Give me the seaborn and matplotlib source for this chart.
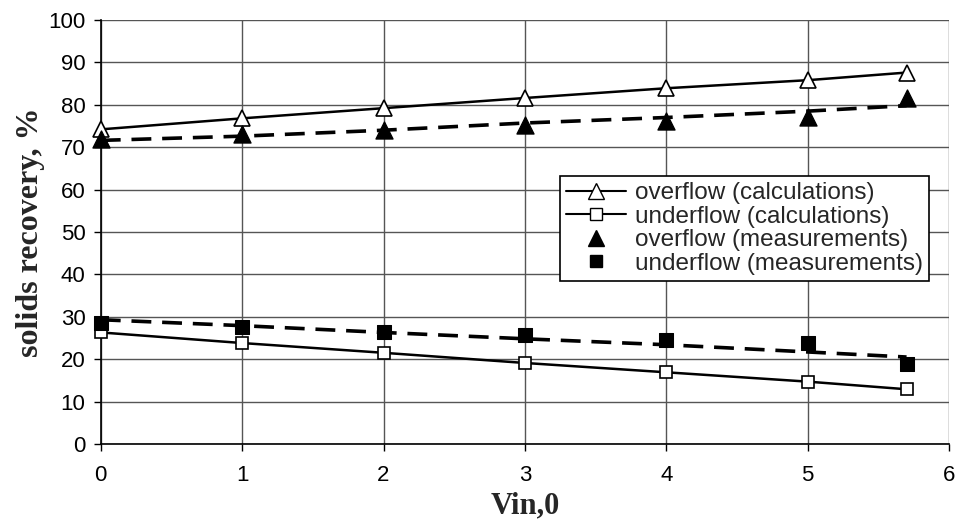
import matplotlib
matplotlib.use("Agg")
import matplotlib.pyplot as plt
from matplotlib.lines import Line2D
import seaborn as sb
import numpy as np

# values
vin = [0, 1, 2, 3, 4, 5, 5.7]
over_calc = [74.2, 76.8, 79.2, 81.6, 83.9, 85.8, 87.6]
under_calc = [26.3, 23.8, 21.5, 19.1, 16.9, 14.7, 12.9]
over_meas = [71.9, 73.1, 74.0, 75.3, 76.2, 77.0, 81.7]
under_meas = [28.5, 27.6, 26.5, 25.6, 24.6, 23.7, 18.8]
# dashed lines running through the measurements
over_trend = [71.6, 72.6, 74.0, 75.7, 77.0, 78.5, 79.8]
under_trend = [29.3, 27.9, 26.3, 24.8, 23.4, 21.7, 20.5]

legend_labels = ["overflow (calculations)", "underflow (calculations)",
                 "overflow (measurements)", "underflow (measurements)"]

sb.set_style("white")
plt.rcParams['font.family'] = ['Liberation Sans', 'DejaVu Sans']

fig = plt.figure(figsize=(9.6, 5.26), dpi=100)
ax = fig.add_axes([0.105, 0.156, 0.8835, 0.806])

# dashed trend lines
for trend in (over_trend, under_trend):
    sb.lineplot(x=vin, y=trend, ax=ax, color='black', lw=2.6,
                linestyle=(0, (5.5, 3)), zorder=2)

# calculated curves, open markers
sb.lineplot(x=vin, y=over_calc, ax=ax, color='black', lw=1.8, marker='^',
            markersize=11, markerfacecolor='white', markeredgecolor='black',
            markeredgewidth=1.2, zorder=3, clip_on=False)
sb.lineplot(x=vin, y=under_calc, ax=ax, color='black', lw=1.8, marker='s',
            markersize=9, markerfacecolor='white', markeredgecolor='black',
            markeredgewidth=1.2, zorder=3, clip_on=False)

# measurements, filled markers
sb.scatterplot(x=vin, y=over_meas, ax=ax, color='black', marker='^', s=150,
               edgecolor='black', zorder=4, clip_on=False)
sb.scatterplot(x=vin, y=under_meas, ax=ax, color='black', marker='s', s=90,
               edgecolor='black', zorder=4, clip_on=False)

ax.set_xlim(0, 6)
ax.set_ylim(0, 100)
ax.set_xticks(np.arange(0, 7, 1))
ax.set_yticks(np.arange(0, 101, 10))
ax.grid(True, color='#555555', lw=1)
ax.set_axisbelow(True)
for s in ['top', 'right']:
    ax.spines[s].set_visible(False)
for s in ['left', 'bottom']:
    ax.spines[s].set_color('black')
    ax.spines[s].set_linewidth(1.2)
ax.tick_params(axis='both', direction='out', length=5, width=1,
               labelsize=16, colors='black', bottom=True, left=True)
ax.tick_params(axis='x', pad=10)
ax.tick_params(axis='y', pad=6)

ax.set_xlabel("Vin,0", family='Liberation Serif', fontweight='bold',
              fontsize=22, labelpad=4)
ax.set_ylabel("solids recovery, %", family='Liberation Serif',
              fontweight='bold', fontsize=23, labelpad=2)

handles = [
    Line2D([], [], color='black', lw=1.5, marker='^', markersize=11,
           markerfacecolor='white', markeredgecolor='black'),
    Line2D([], [], color='black', lw=1.5, marker='s', markersize=9,
           markerfacecolor='white', markeredgecolor='black'),
    Line2D([], [], color='black', lw=0, marker='^', markersize=11),
    Line2D([], [], color='black', lw=0, marker='s', markersize=9),
]
leg = ax.legend(handles, legend_labels, loc='upper left',
                bbox_to_anchor=(0.541, 0.632), fontsize=17.5, frameon=True,
                fancybox=False, edgecolor='black', framealpha=1,
                handlelength=2.5, handletextpad=0.35, borderpad=0.25,
                labelspacing=0.06, borderaxespad=0)
leg.get_frame().set_linewidth(1.2)

fig.savefig("out.png", dpi=100)
